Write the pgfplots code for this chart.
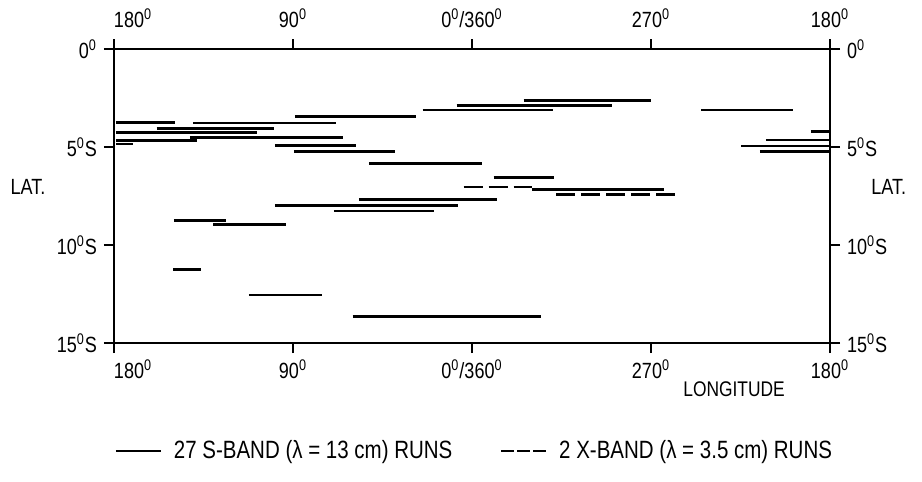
\documentclass[border=0pt]{standalone}
\usepackage{fontspec}
\setmainfont{Liberation Sans}[FakeStretch=0.82]
\usepackage{pgfplots}
\usepackage{pgfplotstable}
\pgfplotsset{compat=1.18}
\newcommand{\dg}{\textsuperscript{0}}

% runs: x = position from left edge (0 = 180 deg), y = latitude south (deg)
\pgfplotstableread{
x y
1.0 3.74
30.6 3.74
nan nan
39.8 3.78
111.5 3.78
nan nan
21.4 4.06
80.4 4.06
nan nan
1.0 4.25
71.7 4.25
nan nan
38.2 4.52
114.9 4.52
nan nan
1.0 4.66
41.5 4.66
nan nan
1.0 4.85
9.7 4.85
nan nan
80.9 4.91
121.5 4.91
nan nan
90.4 5.22
141.1 5.22
nan nan
90.9 3.44
151.7 3.44
nan nan
205.9 2.64
270.2 2.64
nan nan
172.3 2.87
250.6 2.87
nan nan
155.2 3.11
220.5 3.11
nan nan
295.3 3.11
341.5 3.11
nan nan
350.4 4.22
360 4.22
nan nan
327.8 4.64
360 4.64
nan nan
315.3 4.95
360 4.95
nan nan
324.8 5.24
360 5.24
nan nan
128.1 5.85
184.8 5.85
nan nan
190.9 6.57
221.0 6.57
nan nan
210.0 7.16
276.4 7.16
nan nan
123.1 7.67
192.5 7.67
nan nan
80.9 7.98
172.9 7.98
nan nan
110.5 8.27
160.7 8.27
nan nan
30.1 8.74
56.1 8.74
nan nan
49.9 8.94
86.7 8.94
nan nan
29.8 11.26
43.7 11.26
nan nan
67.8 12.54
104.8 12.54
nan nan
120.0 13.66
214.8 13.66
}\sband

\pgfplotstableread{
x y
175.8 7.03
210.0 7.03
nan nan
222.3 7.43
282.9 7.43
}\xband

\begin{document}
\begin{tikzpicture}
\pgfplotsset{
  every axis/.append style={
    width=358pt, height=147pt, scale only axis,
    xmin=0, xmax=360, ymin=0, ymax=15, y dir=reverse,
    xtick={0,90,180,270,360},
    xticklabels={\makebox[0pt][l]{180\dg}, 90\dg, 0\dg/360\dg, 270\dg, 180\dg},
    ytick={0,5,10,15},
    yticklabels={0\dg, 5\dg S, 10\dg S, 15\dg S},
    tick align=outside, major tick length=5pt,
    /pgf/number format/assume math mode=true,
    tick label style={font=\fontsize{11}{13}\selectfont},
    label style={font=\fontsize{10.6}{12}\selectfont},
  }
}
\begin{axis}[
    axis line style={line width=0.9pt},
    tick style={line width=0.9pt, black},
    xtick pos=both, ytick pos=both,
    clip=false,
    unbounded coords=jump,
    xlabel={LONGITUDE},
    xlabel style={at={(axis description cs:0.866,-0.157)}, anchor=center},
    legend columns=2,
    legend style={draw=none, fill=none, at={(axis description cs:0.505,-0.367)},
      anchor=center, font=\fontsize{12.5}{14}\selectfont,
      /tikz/every odd column/.append style={column sep=4pt},
      /tikz/every even column/.append style={column sep=22pt}},
    legend image code/.code={\draw[#1] (0pt,0pt) -- (22.5pt,0pt);},
]
\addplot[black, line width=1.3pt, forget plot] table[x=x, y=y] {\sband};
\addplot[black, line width=1.3pt, dash pattern=on 9.5pt off 3pt, forget plot] table[x=x, y=y] {\xband};
\addlegendimage{black, line width=0.9pt}
\addlegendentry{27 S-BAND (λ = 13 cm) RUNS}
\addlegendimage{black, line width=0.9pt, dash pattern=on 6.5pt off 1.5pt}
\addlegendentry{2 X-BAND (λ = 3.5 cm) RUNS}
\node[font=\fontsize{11}{13}\selectfont] at (axis description cs:-0.12,0.531) {LAT.};
\node[font=\fontsize{11}{13}\selectfont] at (axis description cs:1.082,0.531) {LAT.};
\path (axis description cs:-0.1592,-0.4694) rectangle (axis description cs:1.1285,1.1667);
\end{axis}
\begin{axis}[
    axis line style={draw=none},
    tick style={draw=none},
    xticklabel pos=right, yticklabel pos=right,
    xticklabel style={yshift=2pt},
]
\end{axis}
\end{tikzpicture}
\end{document}
